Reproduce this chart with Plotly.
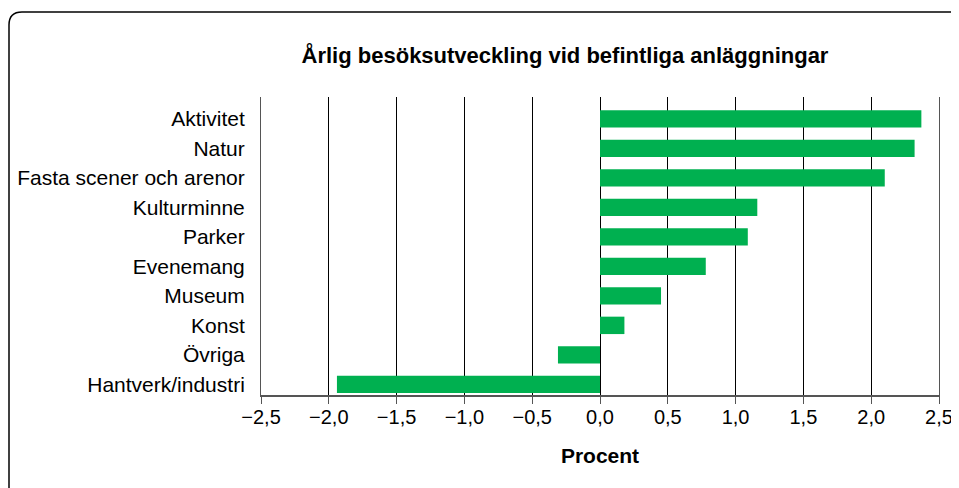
import plotly.graph_objects as go

# Data
categories = ['Aktivitet', 'Natur', 'Fasta scener och arenor', 'Kulturminne', 'Parker',
              'Evenemang', 'Museum', 'Konst', 'Övriga', 'Hantverk/industri']
values = [2.37, 2.32, 2.10, 1.16, 1.09, 0.78, 0.45, 0.18, -0.31, -1.94]
tick_vals = [-2.5, -2.0, -1.5, -1.0, -0.5, 0.0, 0.5, 1.0, 1.5, 2.0, 2.5]

FONT = 'Liberation Sans, Arial, sans-serif'
# the page puts the figure 8px in from the corner
W, H = 951, 480
L, R, T, B = 253, 20, 89, 93

fig = go.Figure()
fig.add_trace(go.Bar(
    x=values, y=categories, orientation='h',
    marker=dict(color='#00B050', line=dict(width=0)),
    width=0.59, hoverinfo='x+y'
))

# rounded frame around the whole chart (open to the right and bottom)
pw, ph = W - L - R, H - T - B
def px(x):
    return (x - L) / pw
def py(y):
    return (H - B - y) / ph
r = 13
fx, fy = 1, 4
frame = dict(xref='paper', yref='paper', line=dict(color='black', width=1.5), layer='above')
fig.add_shape(type='line', x0=px(fx), x1=px(fx), y0=py(H + 10), y1=py(fy + r), **frame)
fig.add_shape(type='line', x0=px(fx + r), x1=px(W + 10), y0=py(fy), y1=py(fy), **frame)
fig.add_shape(type='path',
              path=f"M {px(fx)},{py(fy + r)} Q {px(fx)},{py(fy)} {px(fx + r)},{py(fy)}",
              **frame)

fig.update_layout(
    width=W, height=H,
    margin=dict(l=L, r=R, t=T, b=B),
    paper_bgcolor='white', plot_bgcolor='white',
    separators=', ',
    showlegend=False,
    title=dict(text='<b>Årlig besöksutveckling vid befintliga anläggningar</b>',
               x=557 / W, xanchor='center', y=1 - 47 / H, yanchor='middle',
               font=dict(family=FONT, size=22, color='black')),
    font=dict(family=FONT, size=20, color='black'),
)
fig.update_xaxes(
    range=[-2.5, 2.5], tickvals=tick_vals, tickformat='.1f',
    showgrid=True, gridcolor='black', gridwidth=1,
    zeroline=True, zerolinecolor='black', zerolinewidth=1,
    showline=True, linecolor='#555', linewidth=1.5,
    ticks='outside', ticklen=7, tickcolor='#555',
    ticklabelstandoff=-4,
    tickfont=dict(family=FONT, size=20, color='black'),
    title=dict(text='<b>Procent</b>', font=dict(family=FONT, size=21, color='black'), standoff=22),
    automargin=False,
)
fig.update_yaxes(
    categoryorder='array', categoryarray=categories[::-1],
    range=[-0.36, 9.74],
    showline=True, linecolor='#555', linewidth=1, mirror=True,
    showgrid=False, ticks='', ticklabelstandoff=11,
    tickfont=dict(family=FONT, size=21, color='black'),
    automargin=False,
)

fig.write_html("out.html")
